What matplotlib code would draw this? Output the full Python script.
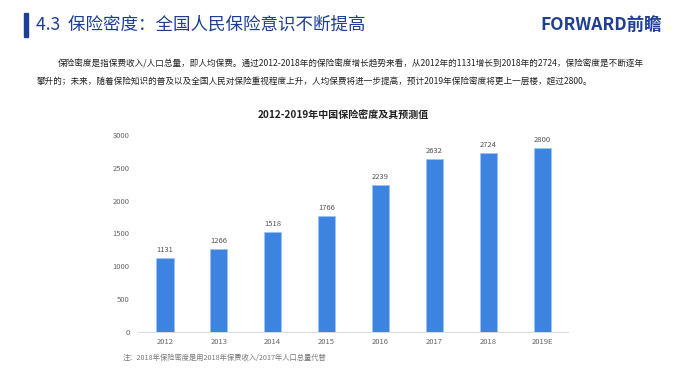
import matplotlib
matplotlib.use("Agg")
import matplotlib.pyplot as plt
from matplotlib.patches import Rectangle

plt.rcParams['font.family'] = ['Noto Sans CJK SC', 'DejaVu Sans']

years = ['2012', '2013', '2014', '2015', '2016', '2017', '2018', '2019E']
density = [1131, 1266, 1518, 1766, 2239, 2632, 2724, 2800]
yticks = [0, 500, 1000, 1500, 2000, 2500, 3000]

header = '4.3  保险密度：全国人民保险意识不断提高'
chart_title = '2012-2019年中国保险密度及其预测值'
para1 = '保险密度是指保费收入/人口总量，即人均保费。通过2012-2018年的保险密度增长趋势来看，从2012年的1131增长到2018年的2724，保险密度是不断逐年'
para2 = '攀升的；未来，随着保险知识的普及以及全国人民对保险重视程度上升，人均保费将进一步提高，预计2019年保险密度将更上一层楼，超过2800。'
note = '注：2018年保险密度是用2018年保费收入/2017年人口总量代替'

W, H = 680, 384
fig = plt.figure(figsize=(W / 100, H / 100), dpi=100)
fig.patch.set_facecolor('white')

def fx(px):
    return px / W

def fy(py):
    return 1 - py / H

navy = '#1e3f94'
# header bar and title
fig.patches.append(Rectangle((fx(24), fy(37)), fx(4), 24 / H, transform=fig.transFigure,
                             color=navy, zorder=5))
fig.text(fx(36), fy(25), header, fontsize=12.6, color=navy, va='center', ha='left')
fig.text(fx(662), fy(25), 'FORWARD前瞻', fontsize=12.5, color=navy, va='center', ha='right',
         fontweight='bold')

fig.text(fx(58), fy(64), para1, fontsize=6.2, color='#222222', va='center', ha='left')
fig.text(fx(37), fy(81), para2, fontsize=6.2, color='#222222', va='center', ha='left')

fig.text(fx(343), fy(116), chart_title, fontsize=7.2, color='#222222', va='center',
         ha='center', fontweight='bold')
fig.text(fx(123), fy(358), note, fontsize=5.2, color='#777777', va='center', ha='left')

ax = fig.add_axes([fx(138), fy(332), fx(568) - fx(138), (332 - 135) / H])
x = range(len(years))
ax.bar(x, density, width=0.32, color='#3d84e0', edgecolor='#9cc3f2', linewidth=0.5,
       zorder=3)
for xi, v in zip(x, density):
    ax.text(xi, v + 60, str(v), ha='center', va='bottom', fontsize=5.5, color='#555555')

ax.set_xlim(-0.5, 7.48)
ax.set_ylim(0, 3000)
ax.set_yticks(yticks)
ax.set_yticklabels([str(t) for t in yticks])
ax.set_xticks(list(x))
ax.set_xticklabels(years)
for s in ['top', 'right', 'left']:
    ax.spines[s].set_visible(False)
ax.spines['bottom'].set_color('#dddddd')
ax.spines['bottom'].set_linewidth(0.8)
ax.tick_params(axis='both', length=0, labelsize=5.5, labelcolor='#666666')
ax.tick_params(axis='y', pad=6)
ax.tick_params(axis='x', pad=4)
ax.set_facecolor('none')

fig.savefig('out.png', dpi=100, facecolor='white')
